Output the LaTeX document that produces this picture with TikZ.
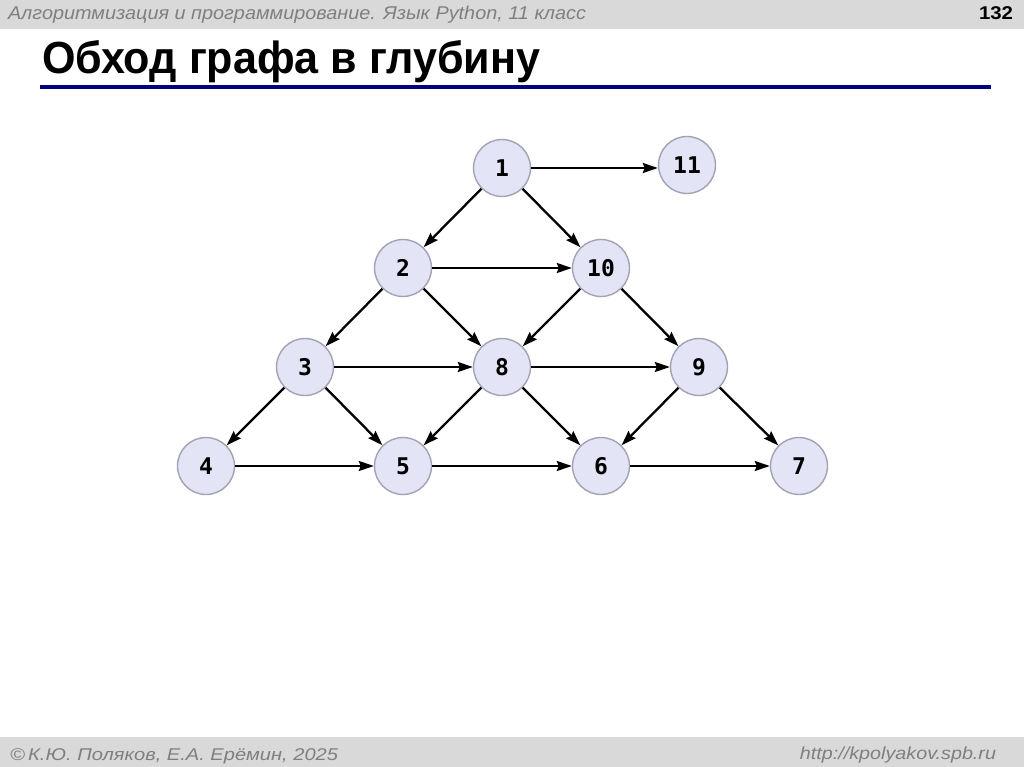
\documentclass[tikz,border=0pt]{standalone}
\usepackage{fontspec}
\setmainfont{Liberation Sans}
\newfontfamily\nodefont{DejaVu Sans Mono}
\usetikzlibrary{arrows.meta}
\definecolor{barGray}{HTML}{D9D9D9}
\definecolor{txtGray}{HTML}{7F7F7F}
\definecolor{navyLine}{HTML}{000080}
\definecolor{nodeFill}{HTML}{E4E4F7}
\definecolor{nodeBorder}{HTML}{A2A2B4}
\begin{document}
\begin{tikzpicture}[x=1pt,y=-1pt,
  vtx/.style={circle,draw=nodeBorder,line width=1.4pt,fill=nodeFill,minimum size=57pt,inner sep=0pt,
    font=\nodefont\bfseries\fontsize{23}{23}\selectfont},
  edge/.style={line width=2.3pt,-{Stealth[length=15pt,width=10pt,inset=2pt]}},
  txt/.style={inner sep=0pt,outer sep=0pt}]
\useasboundingbox (0,0) rectangle (1024,767);
\fill[white] (0,0) rectangle (1024,767);
% header
\fill[barGray] (0,0) rectangle (1024,29);
\node[txt,anchor=base west,text=txtGray] (hdr) at (8,20)
  {\fontsize{18.5}{18.5}\selectfont\itshape\resizebox{578pt}{\height}{Алгоритмизация и программирование. Язык Python, 11 класс}};
\node[txt,anchor=base east] (pg) at (1013,20)
  {\fontsize{18.5}{18.5}\selectfont\bfseries\resizebox{34pt}{\height}{132}};
% title
\node[txt,anchor=base west] (title) at (42,74)
  {\fontsize{45}{45}\selectfont\bfseries\resizebox{498pt}{\height}{Обход графа в глубину}};
\fill[navyLine] (40,85) rectangle (991,89);
% footer
\fill[barGray] (0,737) rectangle (1024,767);
\node[txt,anchor=base west,text=txtGray] (ftl) at (10,760)
  {\fontsize{17}{17}\selectfont\itshape\resizebox{328pt}{\height}{©\,К.Ю. Поляков, Е.А. Ерёмин, 2025}};
\node[txt,anchor=base east,text=txtGray] (ftr) at (996,759)
  {\fontsize{17.5}{17.5}\selectfont\itshape\resizebox{196pt}{\height}{http://kpolyakov.spb.ru}};
% graph nodes
\node[vtx] (n1) at (502,168) {1};
\node[vtx] (n11) at (687,165) {11};
\node[vtx] (n2) at (403,268) {2};
\node[vtx] (n10) at (601,268) {10};
\node[vtx] (n3) at (305,367) {3};
\node[vtx] (n8) at (502,367) {8};
\node[vtx] (n9) at (699,367) {9};
\node[vtx] (n4) at (206,466) {4};
\node[vtx] (n5) at (403,466) {5};
\node[vtx] (n6) at (601,466) {6};
\node[vtx] (n7) at (799,466) {7};
% edges
\draw[edge] (n1.east) -- (n1.east -| n11.west);
\draw[edge] (n1) -- (n2);
\draw[edge] (n1) -- (n10);
\draw[edge] (n2) -- (n10);
\draw[edge] (n2) -- (n3);
\draw[edge] (n2) -- (n8);
\draw[edge] (n10) -- (n8);
\draw[edge] (n10) -- (n9);
\draw[edge] (n3) -- (n8);
\draw[edge] (n3) -- (n4);
\draw[edge] (n3) -- (n5);
\draw[edge] (n8) -- (n9);
\draw[edge] (n8) -- (n5);
\draw[edge] (n8) -- (n6);
\draw[edge] (n9) -- (n6);
\draw[edge] (n9) -- (n7);
\draw[edge] (n4) -- (n5);
\draw[edge] (n5) -- (n6);
\draw[edge] (n6) -- (n7);
\end{tikzpicture}
\end{document}
